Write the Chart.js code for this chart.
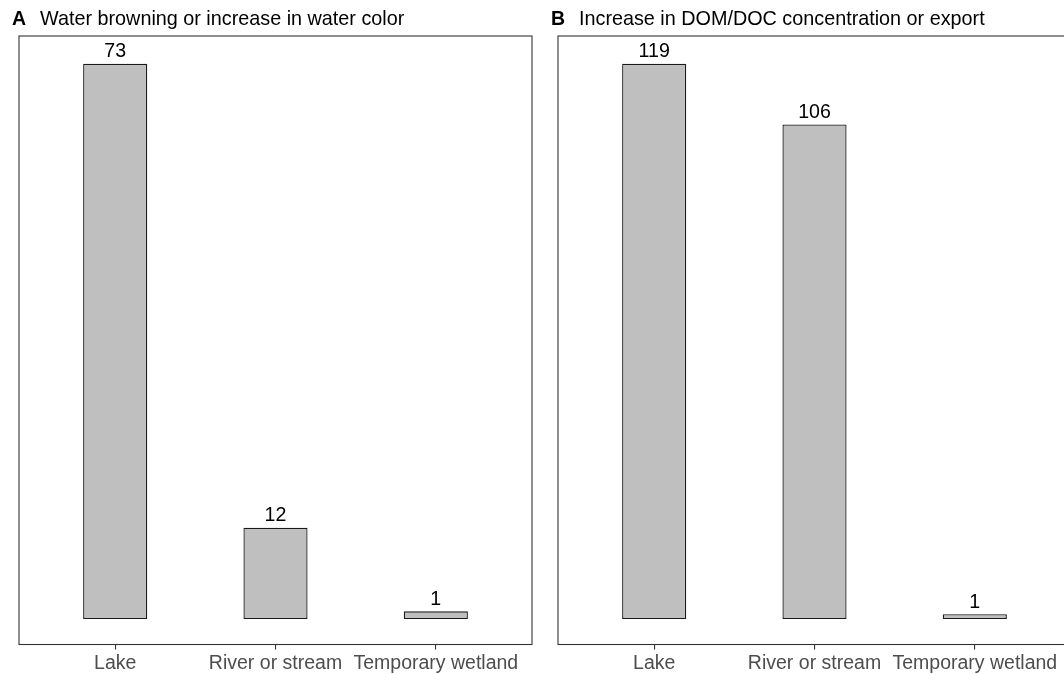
<!DOCTYPE html>
<html lang="en">
<head>
  <meta charset="UTF-8">
  <title>Water browning and DOM/DOC increase by water body type</title>
  <script src="https://cdn.jsdelivr.net/npm/chart.js"></script>
  <style>
    html, body {
      margin: 0;
      padding: 0;
      background: #fff;
      width: 1064px;
      height: 674px;
      overflow: hidden;
    }
    .panel {
      position: absolute;
      top: 0;
      width: 545px;
      height: 674px;
    }
    #panelA { left: 0; }
    #panelB { left: 539px; }
  </style>
</head>
<body>
  <div class="panel" id="panelA"><canvas id="chartA"></canvas></div>
  <div class="panel" id="panelB"><canvas id="chartB"></canvas></div>
  <script>
    const categories = ["Lake", "River or stream", "Temporary wetland"];
    const browningCounts = [73, 12, 1];
    const domDocCounts = [119, 106, 1];

    const FONT = '"Liberation Sans", Arial, sans-serif';

    // panel letter + title above the box
    const panelTitle = {
      id: 'panelTitle',
      afterDraw(chart, args, opts) {
        const ctx = chart.ctx, a = chart.chartArea;
        ctx.save();
        ctx.fillStyle = '#000';
        ctx.textBaseline = 'alphabetic';
        ctx.textAlign = 'left';
        ctx.font = 'bold 19.5px ' + FONT;
        ctx.fillText(opts.letter, a.left - 7, 25);
        ctx.font = '19.8px ' + FONT;
        ctx.fillText(opts.text, a.left + 21, 25);
        ctx.restore();
      }
    };

    // ggplot-like panel border
    const panelBorder = {
      id: 'panelBorder',
      afterDraw(chart) {
        const ctx = chart.ctx, a = chart.chartArea;
        ctx.save();
        ctx.strokeStyle = '#333';
        ctx.lineWidth = 1.1;
        ctx.strokeRect(a.left, a.top, a.right - a.left, a.bottom - a.top);
        ctx.restore();
      }
    };

    // counts written over each bar
    const barValues = {
      id: 'barValues',
      afterDatasetsDraw(chart) {
        const ctx = chart.ctx;
        const meta = chart.getDatasetMeta(0);
        const values = chart.data.datasets[0].data;
        ctx.save();
        ctx.fillStyle = '#000';
        ctx.font = '19.6px ' + FONT;
        ctx.textAlign = 'center';
        ctx.textBaseline = 'alphabetic';
        meta.data.forEach((bar, i) => {
          ctx.fillText(values[i].y, bar.x, bar.y - 6.5);
        });
        ctx.restore();
      }
    };

    function makePanel(id, letter, title, counts) {
      const top = Math.max(...counts);
      new Chart(document.getElementById(id), {
        type: 'bar',
        data: {
          datasets: [{
            data: counts.map((v, i) => ({ x: i + 1, y: v })),
            backgroundColor: '#bfbfbf',
            borderColor: '#1a1a1a',
            borderWidth: 1.3,
            borderSkipped: false,
            barPercentage: 0.4,
            categoryPercentage: 1
          }]
        },
        options: {
          responsive: true,
          maintainAspectRatio: false,
          animation: false,
          layout: { padding: { left: 19, right: 13, top: 36, bottom: 0 } },
          scales: {
            x: {
              type: 'linear',
              offset: false,
              min: 0.4,
              max: categories.length + 0.6,
              afterBuildTicks(scale) {
                scale.ticks = categories.map((c, i) => ({ value: i + 1 }));
              },
              afterFit(scale) { scale.height = 29.5; },
              ticks: {
                autoSkip: false,
                maxRotation: 0,
                padding: 2,
                color: '#4d4d4d',
                font: { family: FONT, size: 19.5 },
                callback: (v) => categories[v - 1]
              },
              grid: {
                offset: false,
                drawOnChartArea: false,
                drawTicks: true,
                tickLength: 5,
                color: '#333',
                lineWidth: 1.1
              },
              border: { display: false }
            },
            y: {
              display: false,
              min: -0.046 * top,
              max: 1.05 * top
            }
          },
          plugins: {
            legend: { display: false },
            tooltip: { enabled: false },
            panelTitle: { letter: letter, text: title }
          }
        },
        plugins: [panelBorder, barValues, panelTitle]
      });
    }

    makePanel('chartA', 'A', 'Water browning or increase in water color', browningCounts);
    makePanel('chartB', 'B', 'Increase in DOM/DOC concentration or export', domDocCounts);
  </script>
</body>
</html>
